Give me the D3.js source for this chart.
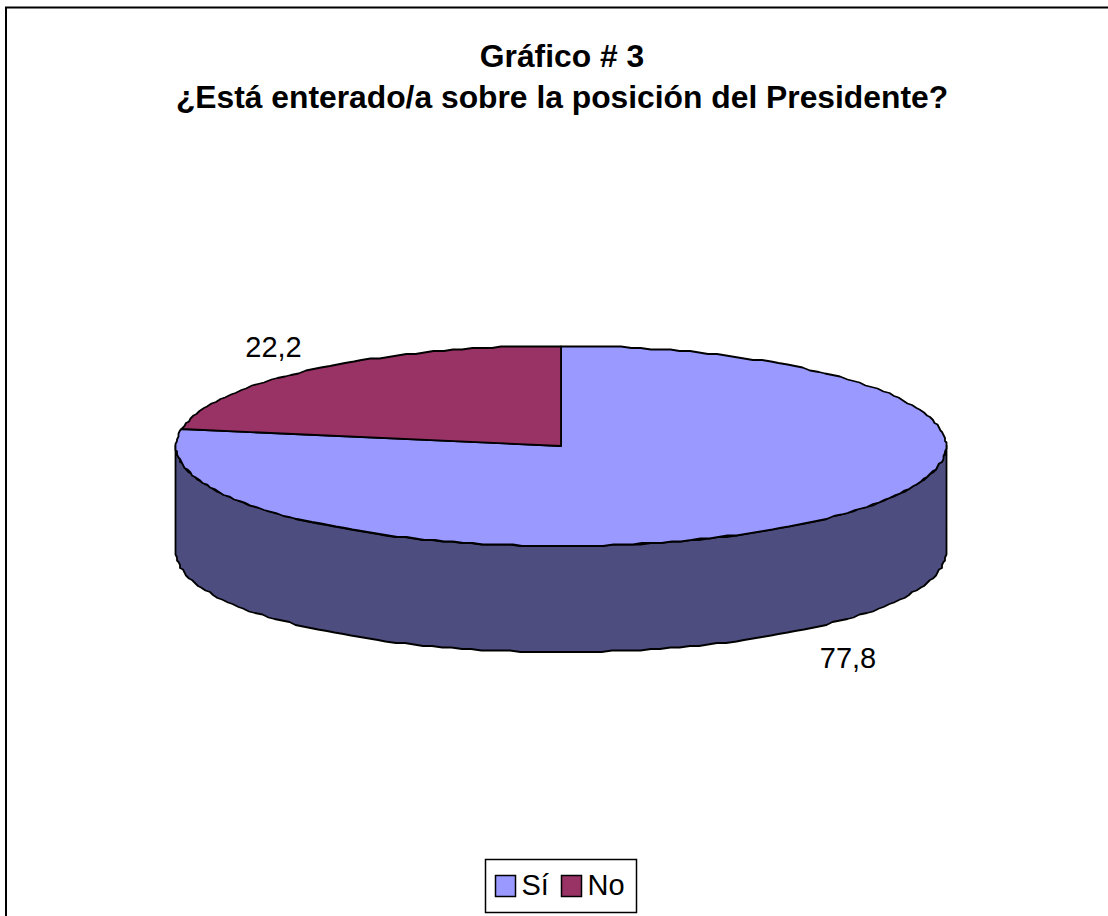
<!DOCTYPE html>
<html>
<head>
<meta charset="utf-8">
<script src="https://cdn.jsdelivr.net/npm/d3@7"></script>
<style>
  html, body { margin: 0; padding: 0; background: #fff; }
  text { font-family: "Liberation Sans", Arial, sans-serif; fill: #000; }
</style>
</head>
<body>
<svg id="chart" width="1108" height="916"></svg>
<script>
// data
var categories = ["Sí", "No"];
var values = [77.8, 22.2];
var valueLabels = ["77,8", "22,2"];
var titleLines = ["Gráfico # 3", "¿Está enterado/a sobre la posición del Presidente?"];
var sliceColors = ["#9999ff", "#993366"];
var sideColor = "#4d4d80";

var width = 1108, height = 916;
var svg = d3.select("#chart");

// chart frame, only top and left show in the picture
svg.append("path")
  .attr("d", "M6,916V7.5H1108")
  .attr("fill", "none")
  .attr("stroke", "#000")
  .attr("stroke-width", 2);

// title
svg.append("text")
  .attr("text-anchor", "middle")
  .attr("font-weight", "bold")
  .attr("font-size", 31.8)
  .selectAll("tspan")
  .data(titleLines)
  .enter().append("tspan")
    .attr("x", 562)
    .attr("y", function(d, i) { return 67 + i * 41; })
    .text(function(d) { return d; });

// flat pie: unit circle mapped to a wide ellipse
var xScale = d3.scaleLinear().domain([-1, 1]).range([176, 946]);
var yScale = d3.scaleLinear().domain([-1, 1]).range([346, 546]);
var depth = 106;

var pie = d3.pie().sort(null);
var arcs = pie(values);

// angle 0 is at 12 o'clock and goes clockwise, same as d3.pie
// snapped to a small grid, the original outline is stair-stepped like that
function snap(v) { return Math.round(v / 1.5) * 1.5; }
function px(a) { return snap(xScale(Math.sin(a))); }
function py(a) { return snap(yScale(-Math.cos(a))); }

function steps(a0, a1) {
  var n = Math.ceil(Math.abs(a1 - a0) / (Math.PI / 120));
  return d3.range(n + 1).map(function(i) { return a0 + (a1 - a0) * i / n; });
}

var area = d3.area()
  .x(function(a) { return px(a); })
  .y0(function(a) { return py(a); })
  .y1(function(a) { return py(a) + depth; });

var line = d3.line()
  .x(function(a) { return px(a); })
  .y(function(a) { return py(a); });

// side wall, front half only
svg.append("path")
  .attr("d", area(steps(Math.PI / 2, Math.PI * 3 / 2)))
  .attr("fill", sideColor)
  .attr("stroke", "#000")
  .attr("stroke-width", 1.8)
  .attr("stroke-linejoin", "round");

// top slices
svg.selectAll(".slice")
  .data(arcs)
  .enter().append("path")
    .attr("class", "slice")
    .attr("d", function(d) {
      var outline = line(steps(d.startAngle, d.endAngle));
      return outline + "L" + xScale(0) + "," + yScale(0) + "Z";
    })
    .attr("fill", function(d, i) { return sliceColors[i]; })
    .attr("stroke", "#000")
    .attr("stroke-width", 1.8)
    .attr("stroke-linejoin", "round");

// value labels
var labelPos = [[848, 668], [273.5, 357]];
svg.selectAll(".value")
  .data(valueLabels)
  .enter().append("text")
    .attr("class", "value")
    .attr("x", function(d, i) { return labelPos[i][0]; })
    .attr("y", function(d, i) { return labelPos[i][1]; })
    .attr("text-anchor", "middle")
    .attr("font-size", 29)
    .text(function(d) { return d; });

// legend
var legend = svg.append("g");
legend.append("rect")
  .attr("x", 485.5).attr("y", 859.5)
  .attr("width", 151).attr("height", 53)
  .attr("fill", "#fff").attr("stroke", "#000").attr("stroke-width", 1.5);

var legendX = [495.5, 561.5];
var item = legend.selectAll(".item")
  .data(categories)
  .enter().append("g")
    .attr("class", "item")
    .attr("transform", function(d, i) { return "translate(" + legendX[i] + ",875.5)"; });

item.append("rect")
  .attr("width", 20).attr("height", 21)
  .attr("fill", function(d, i) { return sliceColors[i]; })
  .attr("stroke", "#000").attr("stroke-width", 1.5);

item.append("text")
  .attr("x", 26).attr("y", 19.5)
  .attr("font-size", 29)
  .text(function(d) { return d; });
</script>
</body>
</html>
